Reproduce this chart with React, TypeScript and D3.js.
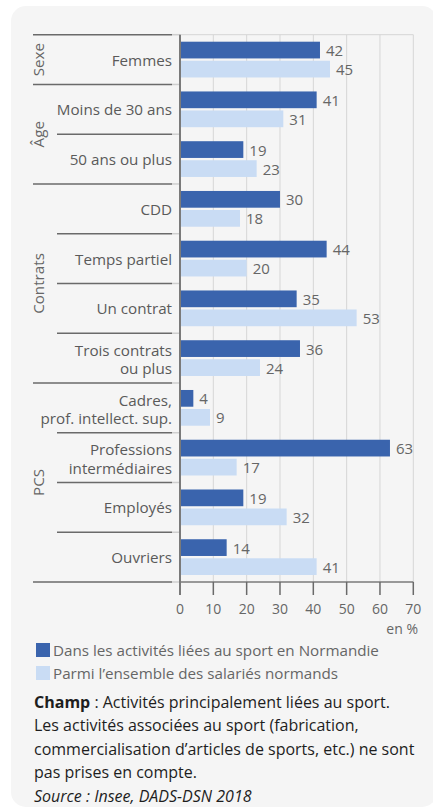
import React from "react";
import * as d3 from "d3";

const categories = [
  "Femmes",
  "Moins de 30 ans",
  "50 ans ou plus",
  "CDD",
  "Temps partiel",
  "Un contrat",
  "Trois contrats ou plus",
  "Cadres, prof. intellect. sup.",
  "Professions intermédiaires",
  "Employés",
  "Ouvriers",
];
const categoryLines = [
  ["Femmes"],
  ["Moins de 30 ans"],
  ["50 ans ou plus"],
  ["CDD"],
  ["Temps partiel"],
  ["Un contrat"],
  ["Trois contrats", "ou plus"],
  ["Cadres,", "prof. intellect. sup."],
  ["Professions", "intermédiaires"],
  ["Employés"],
  ["Ouvriers"],
];
const sportValues = [42, 41, 19, 30, 44, 35, 36, 4, 63, 19, 14];
const allValues = [45, 31, 23, 18, 20, 53, 24, 9, 17, 32, 41];
const groups = [
  { name: "Sexe", start: 0, end: 1 },
  { name: "Âge", start: 1, end: 3 },
  { name: "Contrats", start: 3, end: 7 },
  { name: "PCS", start: 7, end: 11 },
];
const seriesNames = [
  "Dans les activités liées au sport en Normandie",
  "Parmi l’ensemble des salariés normands",
];
const xTicks = [0, 10, 20, 30, 40, 50, 60, 70];

const COLORS = ["#3a64ad", "#c9dcf4"];
const FONT = "'Open Sans', sans-serif";

export default function App() {
  const W = 433;
  const H = 810;
  const x0 = 180;
  const x1 = 413.3;
  const top = 34.7;
  const bottom = 582;
  const x = d3.scaleLinear().domain([0, 70]).range([x0, x1]);
  const y = d3.scaleBand<string>().domain(categories).range([top, bottom]).padding(0);
  const rowH = y.bandwidth();
  const inner = d3
    .scaleBand<number>()
    .domain([0, 1])
    .range([7, rowH - 7])
    .paddingInner(0.12);

  const groupStarts = new Set(groups.map((g) => g.start));
  const boundaries = d3.range(categories.length + 1);

  return (
    <svg
      width={W}
      height={H}
      style={{ position: "absolute", left: 0, top: 0, display: "block" }}
      fontFamily={FONT}
    >
      <rect x={0} y={0} width={W} height={H} fill="#ffffff" />
      <rect x={11} y={6} width={426} height={801} rx={15} fill="#f5f5f5" />

      {/* grid */}
      {xTicks.map((t) => (
        <line
          key={"g" + t}
          x1={x(t)}
          x2={x(t)}
          y1={top}
          y2={bottom}
          stroke="#d6d6d6"
          strokeWidth={1}
        />
      ))}
      <line x1={x0} x2={x1} y1={top} y2={top} stroke="#d6d6d6" strokeWidth={1} />

      {/* separators */}
      {boundaries.map((i) => {
        const yy = top + i * rowH;
        const isLong = i === categories.length || groupStarts.has(i);
        return (
          <g key={"s" + i}>
            <line
              x1={isLong ? 33 : 57}
              x2={172}
              y1={yy}
              y2={yy}
              stroke="#6a6a6a"
              strokeWidth={1.5}
            />
            <line x1={172} x2={180} y1={yy} y2={yy} stroke="#cfcfcf" strokeWidth={1.5} />
          </g>
        );
      })}

      {/* bars */}
      {categories.map((c, i) => {
        const vals = [sportValues[i], allValues[i]];
        return (
          <g key={"b" + c}>
            {vals.map((v, s) => {
              const by = (y(c) as number) + (inner(s) as number);
              return (
                <g key={s}>
                  <rect
                    x={x(0)}
                    y={by}
                    width={x(v) - x(0)}
                    height={inner.bandwidth()}
                    fill={COLORS[s]}
                  />
                  <text
                    x={x(v) + 6}
                    y={by + inner.bandwidth() / 2}
                    dominantBaseline="central"
                    fontSize={15}
                    fill="#666"
                  >
                    {v}
                  </text>
                </g>
              );
            })}
          </g>
        );
      })}

      {/* category labels */}
      {categories.map((c, i) => {
        const lines = categoryLines[i];
        const cy = (y(c) as number) + rowH / 2;
        return (
          <text
            key={"l" + c}
            x={172}
            textAnchor="end"
            fontSize={15.2}
            fill="#5a5a5a"
            dominantBaseline="central"
          >
            {lines.map((ln, k) => (
              <tspan key={k} x={172} y={cy + (k - (lines.length - 1) / 2) * 18.5 + (lines.length > 1 ? 1 : 0)}>
                {ln}
              </tspan>
            ))}
          </text>
        );
      })}

      {/* group labels */}
      {groups.map((g) => {
        const cy = top + ((g.start + g.end) / 2) * rowH;
        return (
          <text
            key={"gr" + g.name}
            transform={`translate(38,${cy}) rotate(-90)`}
            textAnchor="middle"
            dominantBaseline="central"
            fontSize={15.2}
            fill="#666"
          >
            {g.name}
          </text>
        );
      })}

      {/* axes */}
      <line x1={x0} x2={x1} y1={bottom} y2={bottom} stroke="#7a7a7a" strokeWidth={1.5} />
      {xTicks.map((t) => (
        <g key={"t" + t}>
          <line x1={x(t)} x2={x(t)} y1={bottom} y2={bottom + 13} stroke="#6a6a6a" strokeWidth={1.5} />
          <text
            x={x(t)}
            y={608}
            textAnchor="middle"
            dominantBaseline="central"
            fontSize={14}
            fill="#666"
          >
            {t}
          </text>
        </g>
      ))}
      <line x1={x0} x2={x0} y1={top} y2={bottom + 13} stroke="#7a7a7a" strokeWidth={2} />
      <text x={418} y={628} textAnchor="end" dominantBaseline="central" fontSize={14} fill="#666">
        en %
      </text>

      {/* legend */}
      {seriesNames.map((n, i) => (
        <g key={"lg" + i}>
          <rect x={36} y={643 + i * 23} width={14} height={14} fill={COLORS[i]} />
          <text x={53} y={650 + i * 23} dominantBaseline="central" fontSize={15.2} fill="#666">
            {n}
          </text>
        </g>
      ))}

      {/* notes */}
      <text fontSize={16} fill="#1e1e1e">
        <tspan x={34} y={707.5}>
          <tspan fontWeight="bold">Champ</tspan> : Activités principalement liées au sport.
        </tspan>
        <tspan x={34} y={731}>
          Les activités associées au sport (fabrication,
        </tspan>
        <tspan x={34} y={754.5}>
          commercialisation d’articles de sports, etc.) ne sont
        </tspan>
        <tspan x={34} y={778}>
          pas prises en compte.
        </tspan>
        <tspan x={34} y={801.5} fontStyle="italic">
          Source : Insee, DADS-DSN 2018
        </tspan>
      </text>
    </svg>
  );
}
